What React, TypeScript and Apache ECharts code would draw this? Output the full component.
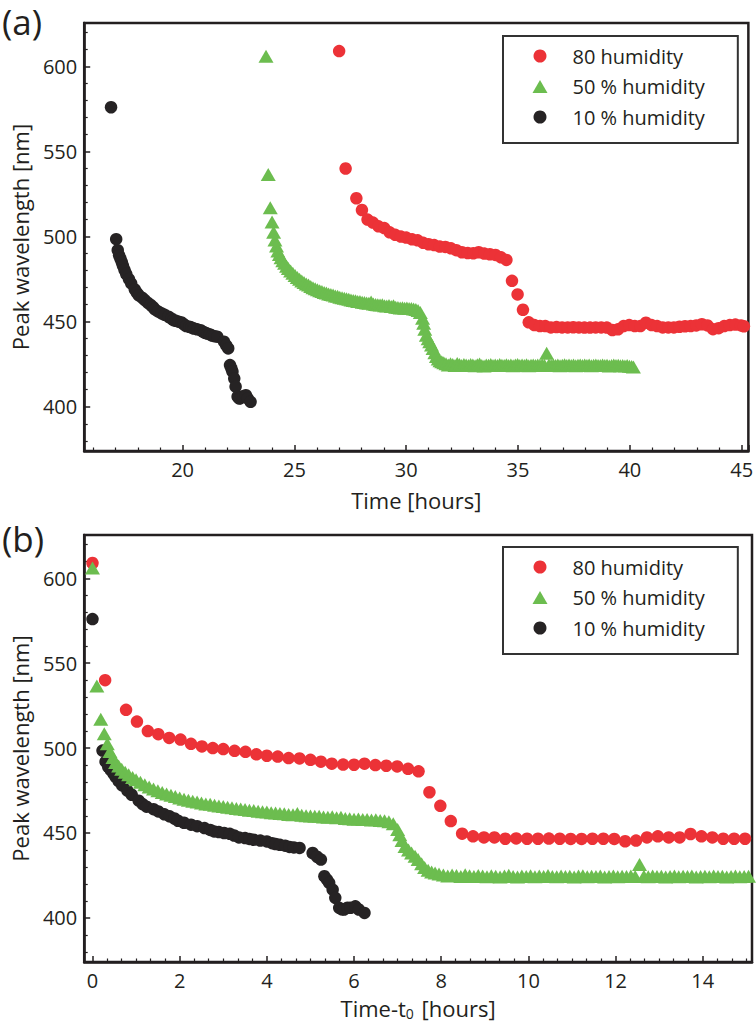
import React, { useEffect, useRef } from 'react';
import * as echarts from 'echarts';

// ---- data (hours since t0, peak wavelength nm) ----
const seriesNames = ['80 humidity', '50 % humidity', '10 % humidity'];
const t0Red = 27.0;
const t0Green = 23.73;
const t0Black = 16.8;

const redData: number[][] = [
  [0.0, 609], [0.29, 540], [0.77, 522.5], [1.02, 515.6], [1.27, 510], [1.51, 508.2], [1.76, 506],
  [2.02, 505], [2.26, 502.5], [2.51, 501], [2.76, 500], [3.0, 499.4], [3.26, 498.4], [3.51, 497.8],
  [3.76, 496.3], [4.0, 495.5], [4.25, 495], [4.5, 494.1], [4.75, 493.9], [5.0, 493.1], [5.24, 492],
  [5.49, 490.8], [5.75, 490.3], [6.0, 490.2], [6.24, 490.8], [6.49, 490], [6.74, 489.6], [6.99, 489.2],
  [7.24, 487.8], [7.48, 486.3], [7.73, 474], [7.98, 466], [8.22, 457], [8.48, 449.6], [8.73, 448],
  [8.98, 447.4], [9.22, 447.4], [9.47, 446.6], [9.72, 446.8], [9.97, 446.6], [10.22, 446.6],
  [10.47, 446.7], [10.72, 446.6], [10.97, 446.5], [11.22, 446.5], [11.47, 446.6], [11.72, 446.6],
  [11.97, 446.5], [12.22, 445.1], [12.47, 445.5], [12.72, 447.4], [12.97, 448], [13.22, 447.4],
  [13.47, 447.4], [13.72, 449.4], [13.97, 448], [14.22, 447.4], [14.47, 446.6], [14.72, 446.6],
  [14.97, 446.6], [15.22, 447], [15.47, 447.3], [15.72, 447.4], [15.97, 447.8], [16.22, 448.5],
  [16.47, 447.8], [16.72, 445.6], [16.97, 446.2], [17.22, 447.4], [17.47, 448], [17.72, 448.3],
  [17.97, 447.8], [18.1, 447.3],
];

const greenData: number[][] = [
  [0.0, 606], [0.1, 536.5], [0.19, 517], [0.27, 508.5], [0.34, 502.5], [0.4, 498], [0.47, 494.5],
  [0.53, 491.5], [0.6, 489.5], [0.67, 487.5], [0.75, 485.8], [0.83, 484.3], [0.92, 482.6], [1.0, 481.3],
  [1.1, 479.8], [1.2, 478.4], [1.3, 477.1], [1.4, 475.9], [1.5, 474.9], [1.6, 473.9], [1.7, 473],
  [1.8, 472.2], [1.9, 471.5], [2.0, 470.6], [2.1, 469.9], [2.2, 469.3], [2.3, 468.7], [2.4, 468.2],
  [2.5, 467.7], [2.6, 467.1], [2.7, 466.9], [2.8, 466.3], [2.9, 465.9], [3.0, 465.6], [3.1, 465.1],
  [3.2, 464.9], [3.3, 464.4], [3.4, 464.1], [3.5, 463.8], [3.6, 463.4], [3.7, 463.2], [3.8, 462.8],
  [3.9, 462.5], [4.0, 462.3], [4.1, 461.9], [4.2, 461.8], [4.3, 461.4], [4.4, 461.3], [4.5, 460.9],
  [4.6, 460.8], [4.7, 461.5], [4.8, 460.4], [4.9, 460.1], [5.0, 460], [5.1, 459.8], [5.2, 459.9],
  [5.3, 459.4], [5.4, 459.2], [5.5, 459.5], [5.6, 458.9], [5.7, 459.3], [5.8, 458.5], [5.9, 458.3],
  [6.0, 458.1], [6.1, 458.2], [6.2, 457.9], [6.3, 458], [6.4, 457.7], [6.5, 457.8], [6.6, 457.4],
  [6.7, 457.2], [6.8, 456.6], [6.9, 455.4], [7.0, 452], [7.05, 449], [7.1, 445.5], [7.17, 442],
  [7.25, 440], [7.32, 438.2], [7.4, 436.3], [7.47, 434.3], [7.55, 431.8], [7.62, 429.6], [7.7, 428],
  [7.78, 427], [7.86, 426.4], [7.95, 425.8], [8.05, 425.2], [8.15, 424.6], [8.25, 425.3], [8.35, 424.9],
  [8.45, 424.3], [8.55, 425.4], [8.65, 424.8], [8.75, 424.3], [8.85, 424.9], [8.95, 424.6], [9.05, 424.2],
  [9.15, 424.8], [9.25, 424.5], [9.35, 424.1], [9.45, 424.7], [9.55, 425.1], [9.65, 424.3], [9.75, 424.0],
  [9.85, 424.6], [9.95, 424.4], [10.05, 424.8], [10.15, 424.2], [10.25, 424.6], [10.35, 424.3],
  [10.45, 424.9], [10.55, 424.4], [10.65, 424.2], [10.75, 424.7], [10.85, 424.3], [10.95, 424.5],
  [11.05, 424.1], [11.15, 424.6], [11.25, 424.8], [11.35, 424.2], [11.45, 424.5], [11.55, 424.3],
  [11.65, 424.7], [11.75, 424.1], [11.85, 424.4], [11.95, 424.6], [12.05, 424.2], [12.15, 424.5],
  [12.25, 424.3], [12.35, 424.6], [12.45, 424.4], [12.55, 431.4], [12.65, 424.5], [12.75, 424.2],
  [12.85, 424.6], [12.95, 424.3], [13.05, 424.5], [13.15, 424.1], [13.25, 424.4], [13.35, 424.7],
  [13.45, 424.2], [13.55, 424.5], [13.65, 424.3], [13.75, 424.6], [13.85, 424.1], [13.95, 424.4],
  [14.05, 424.5], [14.15, 424.2], [14.25, 424.6], [14.35, 424.3], [14.45, 424.5], [14.55, 424.1],
  [14.65, 424.4], [14.75, 424.6], [14.85, 424.2], [14.95, 424.3], [15.05, 424.5], [15.15, 424.2],
  [15.25, 424.4], [15.35, 424.0], [15.45, 424.3], [15.55, 424.6], [15.65, 424.2], [15.75, 424.4],
  [15.85, 424.1], [15.95, 424.3], [16.05, 424.0], [16.15, 424.2], [16.25, 423.8], [16.35, 423.6],
  [16.43, 423.4],
];

const blackData: number[][] = [
  [0.0, 576], [0.23, 498.5], [0.3, 492], [0.36, 489], [0.42, 487], [0.48, 485], [0.53, 483],
  [0.6, 480.5], [0.68, 478], [0.8, 475], [0.9, 472.5], [1.06, 469], [1.15, 467], [1.24, 465.5],
  [1.4, 464], [1.51, 462.7], [1.65, 461], [1.77, 459.8], [1.88, 458.5], [1.96, 457.2], [2.1, 456],
  [2.26, 454.9], [2.4, 454], [2.57, 452.9], [2.7, 451.8], [2.79, 450.9], [2.9, 450.5], [3.02, 450],
  [3.15, 449.5], [3.25, 448.5], [3.36, 447.4], [3.5, 447], [3.6, 446.5], [3.7, 446], [3.85, 445.5],
  [4.0, 445], [4.12, 444], [4.2, 443.5], [4.3, 443], [4.42, 442.5], [4.52, 441.8], [4.62, 441.5],
  [4.75, 441.2], [5.05, 438.2], [5.15, 436], [5.24, 434.3], [5.32, 424.5], [5.38, 422.5], [5.43, 420.6],
  [5.51, 416.6], [5.57, 411.8], [5.66, 405.9], [5.72, 405], [5.77, 404.9], [5.85, 406], [5.92, 405.9],
  [6.03, 406.8], [6.11, 404.9], [6.24, 402.9],
];

// axis ranges
const xRangeA = [15.6, 45.3];
const xRangeB = [-0.19, 15.13];
const yRange = [374, 625.5];

const RED = '#ec3237';
const GREEN = '#6cbd4f';
const BLACK = '#262324';
const INK = '#231f20';
const FONT = 'Open Sans';

const shift = (d: number[][], t0: number) => d.map(([t, y]) => [t + t0, y]);
const multipleOf = (v: number, m: number) => Math.abs(v - Math.round(v / m) * m) < 1e-6;

export default function App() {
  const ref = useRef<HTMLDivElement>(null);
  useEffect(() => {
    if (!ref.current) return;
    const chart = echarts.init(ref.current, undefined, { renderer: 'svg' });

    const axisCommon = {
      axisLine: { show: true, onZero: false, lineStyle: { color: INK, width: 2.5 } },
      axisTick: { show: true, inside: true, length: 6, lineStyle: { color: INK, width: 1.5 } },
      minorTick: { show: true, splitNumber: 5, length: 3.5, lineStyle: { color: INK, width: 1.2 } },
      splitLine: { show: false },
      minorSplitLine: { show: false },
    };
    const xLabel = (m: number) => ({
      color: INK, fontSize: 20, fontFamily: FONT, margin: 8, lineHeight: 20,
      formatter: (v: number) => (multipleOf(v, m) ? String(Math.round(v)) : ''),
    });
    const yLabel = {
      color: INK, fontSize: 20, fontFamily: FONT, margin: 7,
      formatter: (v: number) => (multipleOf(v, 50) ? String(Math.round(v)) : ''),
    };
    const nameStyle = { color: INK, fontSize: 22, fontFamily: FONT, lineHeight: 24 };

    const legendCommon = {
      orient: 'vertical',
      data: seriesNames,
      itemWidth: 15,
      itemHeight: 13,
      itemGap: 6.5,
      symbolKeepAspect: true,
      padding: [8, 33, 14, 29.5],
      borderColor: '#333',
      borderWidth: 2,
      backgroundColor: '#fff',
      selectedMode: false,
      textStyle: { color: INK, fontSize: 20, fontFamily: FONT, lineHeight: 24, padding: [0, 0, 0, 20] },
    };

    const mk = (name: string, data: number[][], idx: number, symbol: string, color: string, size: any) => ({
      type: 'scatter', name, data, xAxisIndex: idx, yAxisIndex: idx,
      symbol, symbolSize: size, itemStyle: { color, opacity: 1 }, clip: true,
    });

    const series: any[] = [];
    for (const idx of [0, 1]) {
      const a = idx === 0;
      series.push(mk(seriesNames[2], a ? shift(blackData, t0Black) : blackData, idx, 'circle', BLACK, 12.5));
      series.push(mk(seriesNames[0], a ? shift(redData, t0Red) : redData, idx, 'circle', RED, 12.5));
      series.push(mk(seriesNames[1], a ? shift(greenData, t0Green) : greenData, idx, 'triangle', GREEN, [15, 13]));
    }

    chart.setOption({
      animation: false,
      backgroundColor: '#fff',
      grid: [
        { left: 75, top: 23, width: 677, height: 428, show: true, borderColor: INK, borderWidth: 2.5, backgroundColor: 'transparent' },
        { left: 75, top: 535, width: 677, height: 427, show: true, borderColor: INK, borderWidth: 2.5, backgroundColor: 'transparent' },
      ],
      xAxis: [
        {
          type: 'value', gridIndex: 0, min: xRangeA[0], max: xRangeA[1], splitNumber: 5,
          ...axisCommon, axisLabel: xLabel(5),
          name: 'Time [hours]', nameLocation: 'middle', nameGap: 37, nameTextStyle: nameStyle,
        },
        {
          type: 'value', gridIndex: 1, min: xRangeB[0], max: xRangeB[1], splitNumber: 7,
          ...axisCommon, minorTick: { ...axisCommon.minorTick, splitNumber: 6 }, axisLabel: xLabel(2),
          name: 'Time-t{s|0} [hours]', nameLocation: 'middle', nameGap: 34,
          nameTextStyle: { ...nameStyle, rich: { s: { fontSize: 14, fontFamily: FONT, color: INK, verticalAlign: 'bottom', lineHeight: 24, padding: [8, 2, 0, 0] } } },
        },
      ],
      yAxis: [
        {
          type: 'value', gridIndex: 0, min: yRange[0], max: yRange[1], splitNumber: 5,
          ...axisCommon, axisLabel: yLabel,
          name: 'Peak wavelength [nm]', nameLocation: 'middle', nameGap: 50, nameTextStyle: nameStyle,
        },
        {
          type: 'value', gridIndex: 1, min: yRange[0], max: yRange[1], splitNumber: 5,
          ...axisCommon, axisLabel: yLabel,
          name: 'Peak wavelength [nm]', nameLocation: 'middle', nameGap: 50, nameTextStyle: nameStyle,
        },
      ],
      legend: [
        { ...legendCommon, left: 503, top: 36 },
        { ...legendCommon, left: 503, top: 547 },
      ],
      graphic: [
        { type: 'text', x: 2, y: 4, style: { text: '(a)', fontSize: 35, fontFamily: FONT, fill: INK, verticalAlign: 'top', align: 'left' } },
        { type: 'text', x: 2, y: 521, style: { text: '(b)', fontSize: 35, fontFamily: FONT, fill: INK, verticalAlign: 'top', align: 'left' } },
      ],
      series,
    });
    return () => chart.dispose();
  }, []);
  return <div ref={ref} style={{ position: 'absolute', left: 0, top: 0, width: 756, height: 1024 }} />;
}
